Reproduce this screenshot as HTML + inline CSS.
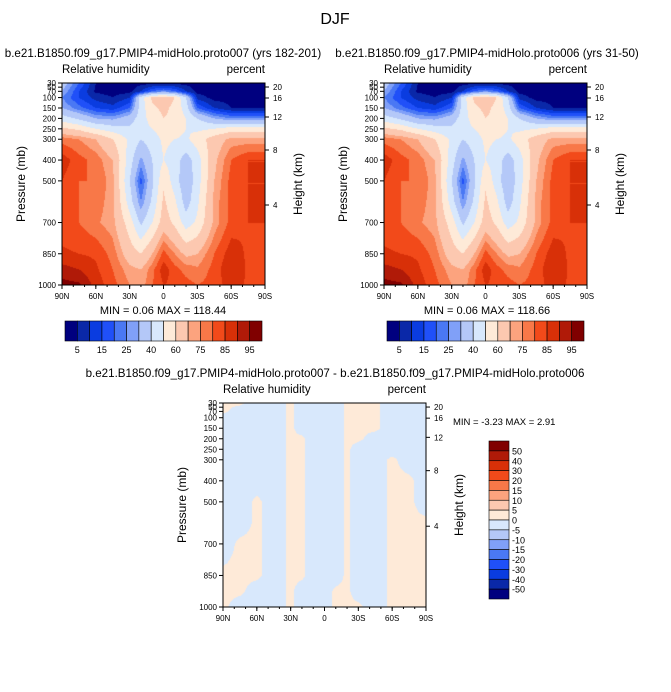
<!DOCTYPE html>
<html><head><meta charset="utf-8">
<style>
body{margin:0;background:#fff;width:671px;height:692px;overflow:hidden;position:relative;font-family:"Liberation Sans",sans-serif}
canvas{position:absolute}
svg{position:absolute;left:0;top:0}
</style></head>
<body>
<canvas id="c1" width="203" height="202" style="left:62px;top:83px"></canvas>
<canvas id="c2" width="203" height="202" style="left:384px;top:83px"></canvas>
<canvas id="c3" width="203" height="204" style="left:223px;top:403px"></canvas>
<svg id="s" width="671" height="692"></svg>
<script>
const lats=[90,75,60,45,30,20,10,0,-10,-20,-30,-45,-60,-75,-90];
const levs=[30,70,100,150,200,250,300,400,500,600,700,850,925,1000];
const rh007=[
[35,20,5,3,3,3,3,3,3,3,3,3,3,3,3],
[30,15,4,3,3,10,20,25,20,10,3,3,3,3,3],
[25,15,8,5,10,45,62,65,60,40,8,3,3,3,3],
[30,22,15,12,20,45,58,62,58,45,20,10,5,4,4],
[45,38,30,28,35,45,55,60,58,50,40,30,25,25,25],
[62,58,50,45,42,45,50,55,55,50,48,50,55,55,55],
[78,75,70,60,48,40,45,52,50,48,55,65,72,72,72],
[88,82,78,70,45,28,40,50,45,35,45,68,80,85,85],
[85,80,80,72,40,18,38,58,45,32,45,70,82,85,85],
[82,80,78,72,45,25,42,62,52,35,48,72,82,85,85],
[82,80,76,72,55,38,50,65,58,45,52,72,82,85,85],
[86,85,84,78,65,60,70,82,75,68,70,80,88,84,80],
[92,90,86,80,72,70,78,88,82,78,76,82,90,84,80],
[97,96,88,82,75,72,80,85,84,82,80,82,88,84,80]];
const rh006=[
[35,20,5,3,3,3,3,3,3,3,3,3,3,3,3],
[30,15,4,3,3,10,20,25,20,10,3,3,3,3,3],
[25,15,8,5,10,45,62,65,60,40,8,3,3,3,3],
[30,22,15,12,20,45,58,62,58,45,20,10,5,4,4],
[45,38,30,28,35,45,55,60,58,50,40,30,25,25,25],
[62,58,50,45,42,45,50,55,55,50,48,50,55,55,55],
[78,75,70,60,48,40,45,52,50,48,55,65,72,72,72],
[88,82,78,70,45,28,40,50,45,35,45,68,80,85,85],
[85,80,80,72,40,18,38,58,45,32,45,70,82,85,85],
[82,80,78,72,45,25,42,62,52,35,48,72,82,85,85],
[82,80,76,72,55,38,50,65,58,45,52,72,82,85,85],
[86,85,84,78,65,60,70,82,75,68,70,80,88,84,80],
[92,90,86,80,72,70,78,88,82,78,76,82,90,84,80],
[97,96,88,82,75,72,80,85,84,82,80,82,88,84,80]];
const rhDiff=[
[0.6,0.6,-1.4,-1.4,0.6,-1.4,-1.4,-1.4,-1.4,0.6,0.6,0.6,-1.4,-1.4,-1.4],
[0.6,-1.4,-1.4,-1.4,0.6,-1.4,-1.4,-1.4,-1.4,0.6,0.6,0.6,-1.4,-1.4,-1.4],
[-1.4,-1.4,-1.4,-1.4,0.6,-1.4,-1.4,-1.4,-1.4,0.6,0.6,0.6,-1.4,-1.4,-1.4],
[-1.4,-1.4,-1.4,-1.4,0.6,-1.4,-1.4,-1.4,-1.4,0.6,0.6,0.6,-1.4,-1.4,-1.4],
[-1.4,-1.4,-1.4,-1.4,0.6,0.6,-1.4,-1.4,-1.4,0.6,0.6,-1.4,-1.4,-1.4,-1.4],
[-1.4,-1.4,-1.4,-1.4,0.6,0.6,-1.4,-1.4,-1.4,0.6,-1.4,-1.4,-1.4,-1.4,-1.4],
[-1.4,-1.4,-1.4,-1.4,0.6,0.6,-1.4,-1.4,-1.4,0.6,-1.4,-1.4,0.6,-1.4,-1.4],
[-1.4,-1.4,-1.4,-1.4,0.6,0.6,-1.4,-1.4,-1.4,0.6,-1.4,-1.4,0.6,0.6,-1.4],
[-1.4,-1.4,0.6,-1.4,0.6,0.6,-1.4,-1.4,-1.4,0.6,-1.4,-1.4,0.6,0.6,-1.4],
[-1.4,-1.4,0.6,-1.4,0.6,0.6,-1.4,-1.4,-1.4,0.6,-1.4,-1.4,0.6,0.6,0.6],
[-1.4,0.6,0.6,-1.4,0.6,0.6,-1.4,-1.4,-1.4,0.6,-1.4,-1.4,0.6,0.6,0.6],
[0.6,0.6,0.6,-1.4,0.6,0.6,-1.4,-1.4,-1.4,0.6,-1.4,-1.4,0.6,0.6,0.6],
[0.6,0.6,-1.4,-1.4,0.6,-1.4,-1.4,-1.4,0.6,0.6,-1.4,-1.4,0.6,0.6,0.6],
[0.6,-1.4,-1.4,-1.4,0.6,-1.4,-1.4,-1.4,0.6,0.6,0.6,-1.4,0.6,0.6,0.6]];
const rhLevels=[5,10,15,20,25,30,40,50,60,70,75,80,85,90,95];
const rhLabels=["5","15","25","40","60","75","85","95"];
const diffLevels=[-50,-40,-30,-20,-15,-10,-5,0,5,10,15,20,30,40,50];
const colors=["#00007f","#0a28a8","#0a3ce0","#2050f8","#4a78f4","#80a0f8","#b4c8f8","#d8e8fc","#feead8","#fcc8b0","#fca37e","#f87848","#f24a1a","#d83008","#b01a08","#800000"];
const pTicks=[30,50,70,100,150,200,250,300,400,500,700,850,1000];
const hTicks=[[20,87],[16,98],[12,117],[8,150],[4,205]];
const latTicks=["90N","60N","30N","0","30S","60S","90S"];

function interp(arr,v){
  for(let i=0;i<arr.length-1;i++){
    const a=arr[i],b=arr[i+1];
    if((v>=a&&v<=b)||(v<=a&&v>=b)) return [i,(v-a)/(b-a)];
  }
  return [arr.length-2,1];
}
function colorFor(v,levels){let k=0;while(k<levels.length&&v>=levels[k])k++;return colors[k];}
function drawField(id,data,levels){
  const c=document.getElementById(id),g=c.getContext('2d'),W=c.width,H=c.height;
  for(let py=0;py<H;py++){
    const p=30+970*(py+0.5)/H;const [j,ty]=interp(levs,p);
    for(let px=0;px<W;px++){
      const lat=90-180*(px+0.5)/W;const [i,tx]=interp(lats,lat);
      const v=(data[j][i]*(1-tx)+data[j][i+1]*tx)*(1-ty)+(data[j+1][i]*(1-tx)+data[j+1][i+1]*tx)*ty;
      g.fillStyle=colorFor(v,levels);g.fillRect(px,py,1,1);
    }
  }
}
drawField('c1',rh007,rhLevels);
drawField('c2',rh006,rhLevels);
drawField('c3',rhDiff,diffLevels);

const S=document.getElementById('s');const NS='http://www.w3.org/2000/svg';
function el(tag,attrs,txt){const e=document.createElementNS(NS,tag);for(const k in attrs)e.setAttribute(k,attrs[k]);if(txt!==undefined)e.textContent=txt;S.appendChild(e);return e;}
function txt(x,y,s,size,anchor,name,rot){const a={x:x,y:y,'font-size':size,'text-anchor':anchor||'start','font-family':'Liberation Sans, sans-serif',fill:'#000'};if(rot)a.transform='rotate(-90 '+x+' '+y+')';const e=el('text',a,s);return e;}

function panel(x0,y0,W,H,sub,subx,tag){
  const r=el('rect',{x:x0,y:y0,width:W,height:H,fill:'none',stroke:'#000','stroke-width':1});
  
  txt(x0,y0-10,'Relative humidity',11.5,'start',tag+'-left-title');
  txt(x0+W,y0-10,'percent',11.5,'end',tag+'-units');
  pTicks.forEach(p=>{const y=y0+H*(p-30)/970;
    el('line',{x1:x0-4,x2:x0,y1:y,y2:y,stroke:'#000'});
    txt(x0-6,y+3,String(p),8,'end',tag+'-p-tick');});
  hTicks.forEach(h=>{const y=y0+(h[1]-83)*H/202;
    el('line',{x1:x0+W,x2:x0+W+4,y1:y,y2:y,stroke:'#000'});
    txt(x0+W+8,y+3,String(h[0]),8,'start',tag+'-h-tick');});
  latTicks.forEach((l,k)=>{const x=x0+W*k/6;
    el('line',{x1:x,x2:x,y1:y0+H,y2:y0+H+4,stroke:'#000'});
    txt(x,y0+H+14,l,8,'middle',tag+'-lat-tick');});
  for(let k=0;k<18;k++){const x=x0+W*k/18;el('line',{x1:x,x2:x,y1:y0+H,y2:y0+H+2,stroke:'#000'});}
  txt(x0-37,y0+H/2,'Pressure (mb)',12,'middle',tag+'-y-title',true);
  txt(x0+W+37,y0+H/2,'Height (km)',12,'middle',tag+'-y2-title',true);
  txt(subx,y0-26,sub,11.6,'middle',tag+'-subtitle');
}
txt(335,24,'DJF',16,'middle','main-title');
panel(62,83,203,202,'b.e21.B1850.f09_g17.PMIP4-midHolo.proto007 (yrs 182-201)',163,'left-panel');
panel(384,83,203,202,'b.e21.B1850.f09_g17.PMIP4-midHolo.proto006 (yrs 31-50)',487,'right-panel');
panel(223,403,203,204,'b.e21.B1850.f09_g17.PMIP4-midHolo.proto007 - b.e21.B1850.f09_g17.PMIP4-midHolo.proto006',335,'diff-panel');
txt(163,314,'MIN =   0.06  MAX = 118.44',11,'middle','left-minmax');
txt(487,314,'MIN =   0.06  MAX = 118.66',11,'middle','right-minmax');
txt(453,425,'MIN =  -3.23  MAX =   2.91',9.5,'start','diff-minmax');

function hbar(x0,y0,W,H,tag){
  const bw=W/16;
  colors.forEach((c,k)=>{const r=el('rect',{x:x0+k*bw,y:y0,width:bw,height:H,fill:c,stroke:'#000','stroke-width':0.6});
    });
  rhLabels.forEach((l,k)=>txt(x0+bw*(2*k+1),y0+H+12,l,9,'middle',tag+'-label'));
}
hbar(65,321,197,20,'left-colorbar');
hbar(387,321,197,20,'right-colorbar');
(function(){const x0=489,y0=441,W=20,H=158,bh=H/16;
  colors.slice().reverse().forEach((c,k)=>{const r=el('rect',{x:x0,y:y0+k*bh,width:W,height:bh,fill:c,stroke:'#000','stroke-width':0.6});
    });
  diffLevels.slice().reverse().forEach((l,k)=>txt(x0+W+3,y0+(k+1)*bh+3.5,String(l),9,'start','diff-colorbar-label'));
})();
</script>
</body></html>
